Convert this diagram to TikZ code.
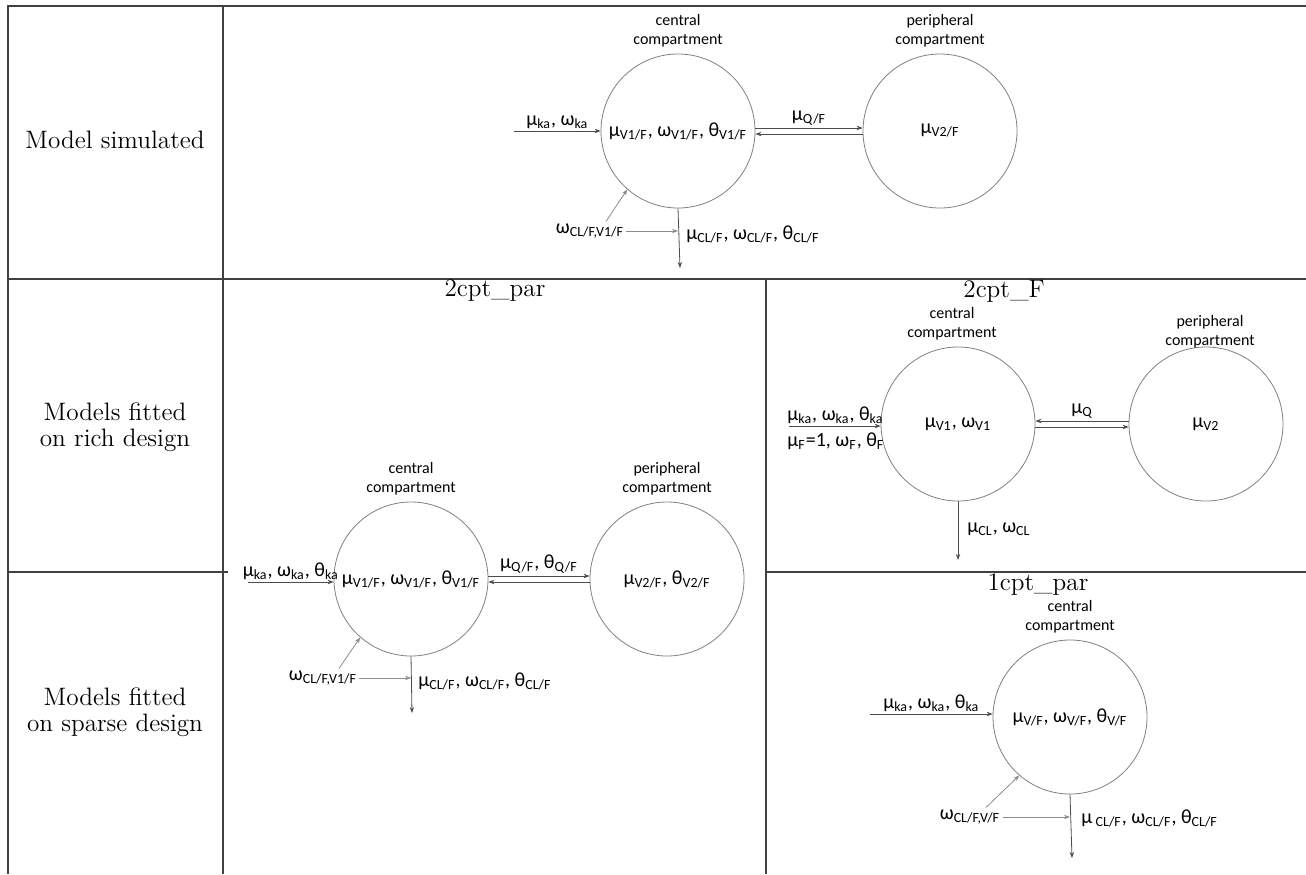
\documentclass[tikz,border=0pt]{standalone}
\usepackage{fontspec}
\setsansfont{Carlito}
\usetikzlibrary{positioning,arrows.meta}
\newcommand{\sbs}[1]{\textsubscript{#1}}

\begin{document}
\begin{tikzpicture}[x=0.5pt, y=-0.5pt, ->, >={Stealth[length=3pt,width=2.2pt]},
	cmpt/.style={draw=gray, -, circle, minimum size=77pt, inner sep=0pt, font=\sffamily\fontsize{10}{12}\selectfont},
	cmptname/.style={font=\sffamily\fontsize{8}{9.5}\selectfont, align=center, inner sep=1pt},
	parlabel/.style={font=\sffamily\fontsize{10}{12}\selectfont, inner sep=1pt},
	flow/.style={draw=black!70, line width=0.4pt},
	corr/.style={draw=black!45, line width=0.4pt},
	rule/.style={-, draw=black!75, line width=0.8pt},
	head/.style={font=\fontsize{12.6}{13}\selectfont, align=center}]
	\useasboundingbox (0,0) rectangle (1306,874);
	
	% table
	\draw[rule] (8,874) -- (8,6) -- (1306,6);
	\draw[rule] (223,6) -- (223,874);
	\draw[rule] (8,279) -- (1306,279);
	\draw[rule] (8,572) -- (228,572);
	\draw[rule] (766,279) -- (766,874);
	\draw[rule] (766,572) -- (1306,572);
	
	\node[head] (rowA) at (115,140) {Model simulated};
	\node[head] (rowB) at (115,427) {Models fitted\\on rich design};
	\node[head] (rowC) at (115,712) {Models fitted\\on sparse design};
	\node[head] (titleB) at (495,291) {2cpt\_par};
	\node[head] (titleC) at (1004,291) {2cpt\_F};
	\node[head] (titleD) at (1038,585) {1cpt\_par};
	
	% model simulated
	\node[cmpt] (cenA) at (678,131) {μ\sbs{V1/F}, ω\sbs{V1/F}, θ\sbs{V1/F}};
	\node[cmpt] (perA) at (940,131) {μ\sbs{V2/F}};
	\node[cmptname, above=2pt of cenA] {central\\compartment};
	\node[cmptname, above=2pt of perA] {peripheral\\compartment};
	\coordinate (inA) at (514,131);
	\coordinate (outA) at (680,268);
	\node[parlabel] (omA) at (590,231) {ω\sbs{CL/F,V1/F}};
	\node[parlabel, anchor=west] (clA) at (684,234) {μ\sbs{CL/F}, ω\sbs{CL/F}, θ\sbs{CL/F}};
	
	\draw[flow] (inA) -- node[parlabel, above]{μ\sbs{ka}, ω\sbs{ka}} (cenA.west);
	\draw[flow] ([yshift=1.5pt]cenA.east) -- node[parlabel, above]{μ\sbs{Q/F}} ([yshift=1.5pt]perA.west);
	\draw[flow] ([yshift=-1.5pt]perA.west) -> ([yshift=-1.5pt]cenA.east);
	\draw[flow] (cenA.south) -> (outA);
	\draw[corr] (omA.east) -> (cenA.south |- omA);
	\draw[corr] ([xshift=8pt]omA.north) -> (cenA.229);
	
	% 2cpt_par
	\node[cmpt] (cenB) at (411,579) {μ\sbs{V1/F}, ω\sbs{V1/F}, θ\sbs{V1/F}};
	\node[cmpt] (perB) at (667,579) {μ\sbs{V2/F}, θ\sbs{V2/F}};
	\node[cmptname, above=2pt of cenB] {central\\compartment};
	\node[cmptname, above=2pt of perB] {peripheral\\compartment};
	\coordinate (inB) at (248,582);
	\coordinate (outB) at (412,713);
	\node[parlabel] (omB) at (323,678) {ω\sbs{CL/F,V1/F}};
	\node[parlabel, anchor=west] (clB) at (416,681) {μ\sbs{CL/F}, ω\sbs{CL/F}, θ\sbs{CL/F}};
	
	\draw[flow] (inB) -- node[parlabel, above]{μ\sbs{ka}, ω\sbs{ka}, θ\sbs{ka}} (cenB.west |- inB);
	\draw[flow] ([yshift=1.5pt]cenB.east) -- node[parlabel, above]{μ\sbs{Q/F}, θ\sbs{Q/F}} ([yshift=1.5pt]perB.west);
	\draw[flow] ([yshift=-1.5pt]perB.west) -> ([yshift=-1.5pt]cenB.east);
	\draw[flow] (cenB.south) -> (outB);
	\draw[corr] (omB.east) -> (cenB.south |- omB);
	\draw[corr] ([xshift=8pt]omB.north) -> (cenB.229);
	
	% 2cpt_F
	\node[cmpt] (cenC) at (958,424) {μ\sbs{V1}, ω\sbs{V1}};
	\node[cmpt] (perC) at (1206,424) {μ\sbs{V2}};
	\node[cmptname, above=2pt of cenC, xshift=-3pt] {central\\compartment};
	\node[cmptname, above=-2pt of perC, xshift=2pt] {peripheral\\compartment};
	\coordinate (inC) at (789,426);
	\coordinate (outC) at (958,560);
	\node[parlabel, anchor=west] (kaC) at (785,415) {μ\sbs{ka}, ω\sbs{ka}, θ\sbs{ka}};
	\node[parlabel, anchor=west] (fC) at (785,441) {μ\sbs{F}=1, ω\sbs{F}, θ\sbs{F}};
	\node[parlabel, anchor=west] (clC) at (965,529) {μ\sbs{CL}, ω\sbs{CL}};
	
	\draw[flow] (inC) -> (cenC.west |- inC);
	\draw[flow] ([yshift=1.5pt]perC.west) -- node[parlabel, above]{μ\sbs{Q}} ([yshift=1.5pt]cenC.east);
	\draw[flow] ([yshift=-1.5pt]cenC.east) -> ([yshift=-1.5pt]perC.west);
	\draw[flow] (cenC.south) -> (outC);
	
	% 1cpt_par
	\node[cmpt] (cenD) at (1070,717) {μ\sbs{V/F}, ω\sbs{V/F}, θ\sbs{V/F}};
	\node[cmptname, above=2pt of cenD] {central\\compartment};
	\coordinate (inD) at (870,714);
	\coordinate (outD) at (1072,858);
	\node[parlabel] (omD) at (970,817) {ω\sbs{CL/F,V/F}};
	\node[parlabel, anchor=west] (clD) at (1079,818) {μ\,\sbs{CL/F}, ω\sbs{CL/F}, θ\sbs{CL/F}};
	
	\draw[flow] (inD) -- node[parlabel, above]{μ\sbs{ka}, ω\sbs{ka}, θ\sbs{ka}} (cenD.west |- inD);
	\draw[flow] (cenD.south) -> (outD);
	\draw[corr] (omD.east) -> (cenD.south |- omD);
	\draw[corr] ([xshift=8pt]omD.north) -> (cenD.229);
	
\end{tikzpicture}
\end{document}
